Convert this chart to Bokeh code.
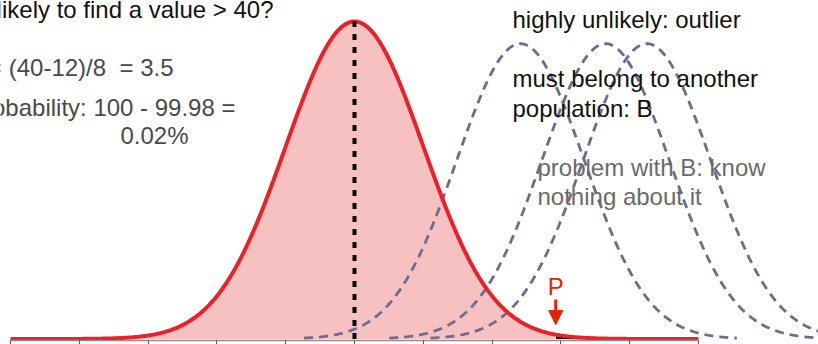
import numpy as np
from bokeh.plotting import figure
from bokeh.models import Range1d, FixedTicker, Arrow, NormalHead
from bokeh.core.properties import value
from bokeh.embed import file_html
from bokeh.resources import INLINE

# Population A: the observed distribution
pop_a_mean = 12
pop_a_sd = 8
pop_a_height = 1.0

# Alternative populations (B) sketched as dashed curves
alt_means = [31.3, 41.2, 46.0]
alt_sd = 7.4
alt_height = 0.93

# Position of the observed value P on the axis
p_value_x = 35.4

# Axis ticks, one per standard deviation of A
tick_values = [-28, -20, -12, -4, 4, 12, 20, 28, 36, 44, 52]

FONT = "Liberation Sans"
RED = "#ea2128"
PINK = "#f8c1c1"
SLATE = "#6c6c90"

W, H = 818, 344
BASE_PX = 338.5      # pixel row of y = 0
PEAK_PX = 21.0       # pixel row of the peak of A
FRAME_H = 340
TXT_DY = -7          # baseline correction for text rows
X0 = tick_values[0]
PX_PER_UNIT = (698 - 10) / (tick_values[-1] - tick_values[0])
X_LEFT = X0 - 10 / PX_PER_UNIT
Y_SCALE = (BASE_PX - PEAK_PX) / pop_a_height


def xd(px):
    return X_LEFT + px / PX_PER_UNIT


def yd(py):
    return (BASE_PX - py) / Y_SCALE


def yt(py):
    return yd(py + TXT_DY)


def gauss(x, mu, sd, h):
    return h * np.exp(-0.5 * ((x - mu) / sd) ** 2)


p = figure(width=W, height=H, output_backend="svg", toolbar_location=None,
           x_range=Range1d(X_LEFT, X_LEFT + W / PX_PER_UNIT),
           y_range=Range1d(yd(FRAME_H), yd(0)),
           min_border=0, outline_line_color=None)
p.background_fill_color = "white"
p.border_fill_color = "white"
p.grid.visible = False
p.yaxis.visible = False

ax = p.xaxis[0]
ax.ticker = FixedTicker(ticks=tick_values)
ax.bounds = (tick_values[0], tick_values[-1])
ax.major_label_overrides = {t: "" for t in tick_values}
ax.major_label_standoff = 0
ax.minor_tick_line_color = None
ax.major_tick_in = 0
ax.major_tick_out = 4
ax.major_tick_line_color = "#555555"
ax.axis_line_color = "#8c8c8c"
ax.axis_line_width = 1.5

# Population A curve and its shaded area
xs = np.linspace(pop_a_mean - 5 * pop_a_sd, pop_a_mean + 5 * pop_a_sd, 600)
ys = gauss(xs, pop_a_mean, pop_a_sd, pop_a_height)
left = xs <= p_value_x
right = xs >= p_value_x
p.varea(x=xs[left], y1=0, y2=ys[left], fill_color=PINK)
p.varea(x=xs[right], y1=0, y2=ys[right], fill_color="black")

# Alternative populations
for mu in alt_means:
    xb = np.linspace(mu - 3.4 * alt_sd, mu + 3.4 * alt_sd, 300)
    p.line(xb, gauss(xb, mu, alt_sd, alt_height), line_color=SLATE,
           line_width=2.8, line_dash="9 6")

p.line(xs, ys, line_color=RED, line_width=4)

# Mean of A
p.line([pop_a_mean, pop_a_mean], [0, pop_a_height],
       line_color="black", line_width=4, line_dash="6 7")

# Marker for P: arrow pointing down to the curve
p_curve = gauss(p_value_x, pop_a_mean, pop_a_sd, pop_a_height)
p.add_layout(Arrow(x_start=p_value_x, y_start=p_curve + yd(302) - yd(337),
                   x_end=p_value_x, y_end=p_curve + yd(327) - yd(337),
                   line_color="#e52200", line_width=3,
                   end=NormalHead(size=14, fill_color="#e52200",
                                  line_color="#e52200")))
p.text(x=[p_value_x], y=[yt(293)], text=["P"], text_color="#e52200",
       text_font=value(FONT), text_font_size="24px", text_align="center",
       text_baseline="alphabetic")

# Annotations on the left (run off the left edge)
p.text(x=[xd(273)], y=[yt(15.5)], text=["How likely to find a value > 40?"],
       text_color="#111111", text_font=value(FONT), text_font_size="24px",
       text_align="right", text_baseline="alphabetic")
p.text(x=[xd(173), xd(235), xd(188)], y=[yt(74), yt(114), yt(142)],
       text=["z = (40-12)/8\u00a0\u00a0= 3.5", "probability: 100 - 99.98 =", "0.02%"],
       text_color="#4a4a4a", text_font=value(FONT), text_font_size="24px",
       text_align="right", text_baseline="alphabetic")

# Annotations on the right
p.text(x=[xd(512)] * 3, y=[yt(26), yt(85), yt(115)],
       text=["highly unlikely: outlier", "must belong to another", "population: B"],
       text_color="#111111", text_font=value(FONT), text_font_size="24px",
       text_align="left", text_baseline="alphabetic")
p.text(x=[xd(537)] * 2, y=[yt(174), yt(203)],
       text=["problem with B: know", "nothing about it"],
       text_color="#6a6a6a", text_font=value(FONT), text_font_size="24px",
       text_align="left", text_baseline="alphabetic")

open("out.html", "w").write(file_html(p, INLINE))
